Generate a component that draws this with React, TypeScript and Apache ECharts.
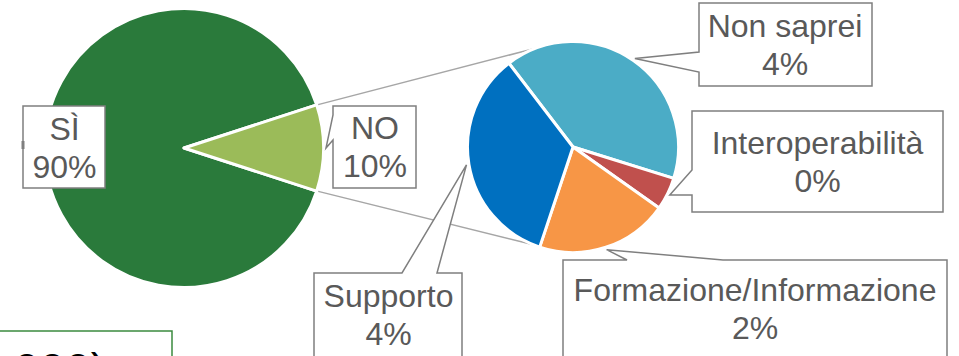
import React, { useEffect, useRef } from "react";
import * as echarts from "echarts";

// Main pie (share of all answers)
const mainCategories = ["SÌ", "NO"];
const mainValues = [90, 10];
const mainColors = ["#2a7a3b", "#9bbb59"];

// Secondary pie (breakdown of "NO"): slice shares and printed percentages
const subCategories = ["Non saprei", "Interoperabilità", "Formazione/Informazione", "Supporto"];
const subShares = [40.2, 5.0, 20.3, 34.5];
const subPercentLabels = [4, 0, 2, 4];
const subColors = ["#4bacc6", "#c0504d", "#f79646", "#0070c0"];

const footnoteText = "000)";

const FONT = '32px "Liberation Sans", Arial, sans-serif';
const TEXT_COLOR = "#595959";
const CALLOUT_STROKE = "#7f7f7f";

type Box = { x0: number; y0: number; x1: number; y1: number };
type Callout = { box: Box; side: "left" | "top" | "none"; a: number; b: number; cx: number; cy: number };

// Callout boxes (layout only). a/b = wedge base positions along the given side.
const mainCallouts: Callout[] = [
  { box: { x0: 23, y0: 106, x1: 105, y1: 188 }, side: "none", a: 0, b: 0, cx: 64.5, cy: 147.5 },
  { box: { x0: 333, y0: 106, x1: 416, y1: 188 }, side: "left", a: 115, b: 140, cx: 375, cy: 147 },
];
const subCallouts: Callout[] = [
  { box: { x0: 699, y0: 3, x1: 872, y1: 86 }, side: "left", a: 52, b: 72, cx: 785, cy: 45 },
  { box: { x0: 692, y0: 111, x1: 943, y1: 212 }, side: "left", a: 170, b: 195, cx: 817.5, cy: 162 },
  { box: { x0: 563, y0: 260, x1: 947, y1: 372 }, side: "top", a: 627, b: 723, cx: 755, cy: 309 },
  { box: { x0: 314, y0: 273, x1: 462, y1: 372 }, side: "top", a: 402, b: 437, cx: 388.5, cy: 315 },
];

function calloutPoints(c: Callout, tip: [number, number]): number[][] {
  const { x0, y0, x1, y1 } = c.box;
  if (c.side === "left") {
    return [[x0, y0], [x1, y0], [x1, y1], [x0, y1], [x0, c.b], tip, [x0, c.a]];
  }
  if (c.side === "top") {
    return [[x0, y0], [c.a, y0], tip, [c.b, y0], [x1, y0], [x1, y1], [x0, y1]];
  }
  return [[x0, y0], [x1, y0], [x1, y1], [x0, y1]];
}

export default function App() {
  const ref = useRef<HTMLDivElement>(null);

  useEffect(() => {
    document.body.style.margin = "0";
    const chart = echarts.init(ref.current!, undefined, { renderer: "svg" });

    chart.setOption({
      animation: false,
      backgroundColor: "#ffffff",
      series: [
        {
          type: "pie",
          center: [184, 148],
          radius: 139.5,
          startAngle: 342,
          clockwise: true,
          silent: true,
          label: { show: false },
          labelLine: { show: false },
          itemStyle: { borderColor: "#ffffff", borderWidth: 3 },
          emphasis: { disabled: true },
          data: mainCategories.map((n, i) => ({
            name: n,
            value: mainValues[i],
            itemStyle: { color: mainColors[i] },
          })),
          z: 2,
        },
        {
          type: "pie",
          center: [573, 147],
          radius: 105.5,
          startAngle: 127.4,
          clockwise: true,
          silent: true,
          label: { show: false },
          labelLine: { show: false },
          itemStyle: { borderColor: "#ffffff", borderWidth: 3 },
          emphasis: { disabled: true },
          data: subCategories.map((n, i) => ({
            name: n,
            value: subShares[i],
            itemStyle: { color: subColors[i] },
          })),
          z: 2,
        },
      ],
    });

    // Read slice geometry back from the library's pie layout
    let mainLayouts: any[] = [];
    let subLayouts: any[] = [];
    try {
      const model = (chart as any).getModel();
      const d0 = model.getSeriesByIndex(0).getData();
      const d1 = model.getSeriesByIndex(1).getData();
      mainLayouts = mainValues.map((_, i) => d0.getItemLayout(i));
      subLayouts = subShares.map((_, i) => d1.getItemLayout(i));
    } catch (e) {
      mainLayouts = [];
      subLayouts = [];
    }

    const tipOf = (l: any, extra: number): [number, number] => {
      const mid = (l.startAngle + l.endAngle) / 2;
      return [l.cx + (l.r + extra) * Math.cos(mid), l.cy + (l.r + extra) * Math.sin(mid)];
    };

    const elements: any[] = [];
    if (mainLayouts.length && subLayouts.length) {
      const no = mainLayouts[1];
      const s = subLayouts[0];
      const rEdge = no.r - 1.5;
      const p1: [number, number] = [no.cx + rEdge * Math.cos(no.startAngle), no.cy + rEdge * Math.sin(no.startAngle)];
      const p2: [number, number] = [no.cx + rEdge * Math.cos(no.endAngle), no.cy + rEdge * Math.sin(no.endAngle)];
      const upA = (-110 * Math.PI) / 180;
      const loA = (112 * Math.PI) / 180;
      const q1: [number, number] = [s.cx + s.r * Math.cos(upA), s.cy + s.r * Math.sin(upA)];
      const q2: [number, number] = [s.cx + s.r * Math.cos(loA), s.cy + s.r * Math.sin(loA)];
      [[p1, q1], [p2, q2]].forEach(([a, b]) => {
        elements.push({
          type: "line",
          z: 0,
          silent: true,
          shape: { x1: a[0], y1: a[1], x2: b[0], y2: b[1] },
          style: { stroke: "#a6a6a6", lineWidth: 1.5 },
        });
      });

      const addCallout = (c: Callout, layout: any, text: string) => {
        const tip = tipOf(layout, 2.5);
        elements.push({
          type: "polygon",
          z: 10,
          silent: true,
          shape: { points: calloutPoints(c, tip) },
          style: { fill: "#ffffff", stroke: CALLOUT_STROKE, lineWidth: 1.5 },
        });
        elements.push({
          type: "text",
          z: 11,
          silent: true,
          x: c.cx,
          y: c.cy,
          style: {
            text,
            fill: TEXT_COLOR,
            font: FONT,
            align: "center",
            verticalAlign: "middle",
            lineHeight: 38,
          },
        });
      };

      mainCallouts.forEach((c, i) =>
        addCallout(c, mainLayouts[i], `${mainCategories[i]}\n${Math.round(mainValues[i])}%`)
      );
      subCallouts.forEach((c, i) =>
        addCallout(c, subLayouts[i], `${subCategories[i]}\n${subPercentLabels[i]}%`)
      );
      // tiny pointer stub on the left of the "SÌ" callout
      elements.push({
        type: "line",
        z: 12,
        silent: true,
        shape: { x1: 23, y1: 141, x2: 23, y2: 149 },
        style: { stroke: CALLOUT_STROKE, lineWidth: 3 },
      });
    }

    // Footnote box (cut off at the bottom edge, as in the source)
    elements.push({
      type: "rect",
      z: 10,
      silent: true,
      shape: { x: -2, y: 331, width: 174, height: 60 },
      style: { fill: "#ffffff", stroke: "#3b8a3f", lineWidth: 1.5 },
    });
    elements.push({
      type: "text",
      z: 11,
      silent: true,
      x: 14,
      y: 370,
      style: {
        text: footnoteText,
        fill: "#000000",
        font: '46px "Liberation Sans", Arial, sans-serif',
        align: "left",
        verticalAlign: "middle",
        lineHeight: 46,
      },
    });

    chart.setOption({ graphic: { elements } });

    return () => chart.dispose();
  }, []);

  return (
    <div
      ref={ref}
      style={{ position: "absolute", left: 0, top: 0, width: 959, height: 356 }}
    />
  );
}
